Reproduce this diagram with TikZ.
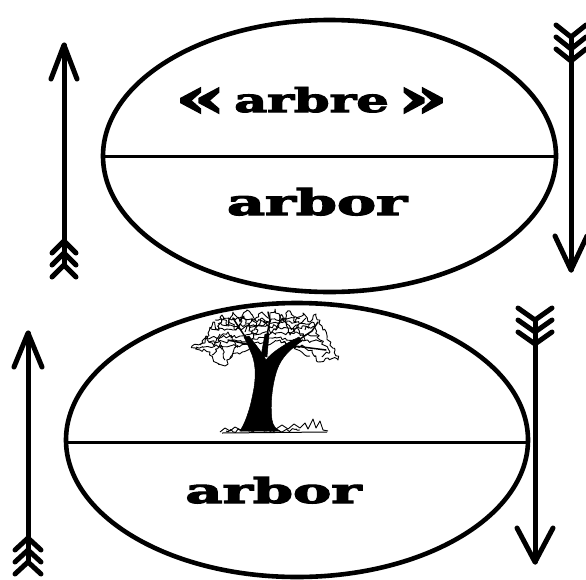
\documentclass[tikz,border=0pt]{standalone}
\usepackage{fontspec}
\newfontfamily\labelfont{DejaVu Serif}[BoldFeatures={FakeBold=3}]
\usetikzlibrary{decorations.pathmorphing}

% arrow with an open head and three chevron fletchings
% #1 name, #2 tip, #3 length tip->last fletching, #4 half width, #5 +1 up / -1 down
\newcommand\fletchedarrow[5]{%
  \begin{scope}[shift={#2}, yscale=#5]
    \coordinate (#1-tip) at (0,0);
    \coordinate (#1-tail) at (0,#3);
    \draw[arrowline] (-#4,34) -- (#1-tip) -- (#4,34);
    \draw[arrowline] (#1-tip) -- (#1-tail);
    \foreach \v in {0,12,24}
      \draw[arrowline] (-#4+1,#3-\v+12) -- (0,#3-\v) -- (#4-1,#3-\v+12);
  \end{scope}}
% large guillemet
\newcommand\bigquote[1]{\raisebox{-0.12em}{\scalebox{1.6}{#1}}}

\begin{document}
\begin{tikzpicture}[x=1pt,y=-1pt,
  outline/.style={line width=4.6pt},
  divider/.style={line width=3pt},
  arrowline/.style={line width=5pt, line cap=round, line join=round},
  word/.style={inner sep=0pt, anchor=base},
  scribble/.style={line width=0.9pt, line join=round, decorate,
    decoration={random steps, segment length=2.5pt, amplitude=1.8pt}},
  bark/.style={fill=black, draw=black, line width=0.5pt},
  twig/.style={line width=1.5pt, line cap=round}]
\useasboundingbox (0,0) rectangle (586,579);
\pgfmathsetseed{4242}

% ---- upper ellipse: French word over Latin root
\coordinate (top) at (329.5,156);
\draw[outline] (top) ellipse [x radius=226.5pt, y radius=136pt];
\draw[divider] (103,156) -- (556,156);
\node[word] (arbre) at (311.5,112)
  {\resizebox{273pt}{25pt}{\labelfont\bfseries \bigquote{«}\,arbre\,\bigquote{»}}};
\node[word] (arborA) at (317,215)
  {\resizebox{180pt}{27pt}{\labelfont\bfseries arbor}};

% ---- lower ellipse: picture over Latin root
\coordinate (bot) at (297,440);
\draw[outline] (bot) ellipse [x radius=231pt, y radius=137pt];
\draw[divider] (66,442) -- (528,442);
\node[word] (arborB) at (273.5,503)
  {\resizebox{176pt}{26pt}{\labelfont\bfseries arbor}};

% ---- the tree
\fill[bark] (240,431) .. controls (247,420) and (251,405) .. (254,388)
  .. controls (256,375) and (256,362) .. (250,350)
  .. controls (248,345) and (246,341) .. (244,337)
  -- (249,336)
  .. controls (254,343) and (262,352) .. (266,360)
  .. controls (272,352) and (285,344) .. (299,337)
  -- (302,341)
  .. controls (290,349) and (281,358) .. (277,370)
  .. controls (272,385) and (270,405) .. (272,420)
  .. controls (273,426) and (276,429) .. (280,431) -- cycle;
\fill[bark] (261,356) -- (265,334) -- (269,334) -- (267,357) -- cycle;
\draw[twig] (246,338) -- (238,326) -- (233,318);
\draw[twig] (300,339) -- (312,331) -- (318,322);
\draw[twig] (267,335) -- (270,320) -- (268,312);
\draw[twig] (256,346) -- (228,340);
\draw[twig] (287,345) -- (326,350);

% canopy scribbles
\draw[scribble] (192,346) -- (205,343) -- (208,333) -- (213,322) -- (218,330)
  -- (222,315) -- (228,325) -- (233,312) -- (240,322) -- (247,310) -- (255,320)
  -- (262,312) -- (268,318) -- (275,309) -- (282,320) -- (290,311) -- (296,322)
  -- (303,313) -- (310,322) -- (316,314) -- (322,326) -- (327,338) -- (335,350)
  -- (338,360) -- (328,358) -- (318,362) -- (312,352) -- (302,345) -- (290,348)
  -- (280,340) -- (268,345) -- (258,342) -- (248,350) -- (232,355) -- (225,366)
  -- (215,362) -- (210,352) -- (200,350) -- cycle;
\draw[scribble] (196,347) -- (250,345);
\draw[scribble] (205,338) -- (240,336) -- (262,333) -- (300,334) -- (318,336);
\draw[scribble] (210,328) -- (235,330) -- (260,325) -- (290,328) -- (315,327);
\draw[scribble] (215,320) -- (240,318) -- (265,321) -- (300,318);
\draw[scribble] (218,324) -- (250,326) -- (280,322) -- (310,324);
\draw[scribble] (208,342) -- (238,341) -- (270,338) -- (322,342);
\draw[scribble] (222,350) -- (218,340) -- (228,332) -- (236,345) -- (230,358);
\draw[scribble] (245,332) -- (252,318) -- (258,330) -- (250,340);
\draw[scribble] (275,330) -- (282,315) -- (290,335) -- (296,325) -- (305,340);
\draw[scribble] (305,330) -- (312,322) -- (320,340) -- (330,352) -- (322,356);
\draw[scribble] (212,355) -- (220,345) -- (225,360);
\draw[scribble] (283,342) -- (298,350) -- (310,356);
\draw[scribble] (228,318) -- (236,330) -- (244,316) -- (252,334) -- (262,318)
  -- (272,332) -- (284,318) -- (294,332) -- (306,318);
\draw[scribble] (200,345) -- (206,336) -- (214,346) -- (220,334);

% grass
\draw[line width=0.9pt, line join=round] (220,432) -- (225,428) -- (230,431)
  -- (235,427) -- (241,430) -- (247,426) -- (252,429) -- (258,427) -- (264,430)
  -- (270,426) -- (276,429) -- (282,425) -- (288,429) -- (294,424) -- (300,428)
  -- (305,423) -- (308,429) -- (313,419) -- (316,428) -- (320,421) -- (323,430)
  -- (328,431);
\draw[line width=1pt] (222,433) -- (327,432);
\draw[scribble] (226,431) -- (300,430);

% ---- the four arrows
\fletchedarrow{upA}{(64,45)}{220}{13}{1}
\fletchedarrow{downA}{(571,270)}{233}{16}{-1}
\fletchedarrow{upB}{(28,333)}{229}{14}{1}
\fletchedarrow{downB}{(535,562)}{242}{18}{-1}
\end{tikzpicture}
\end{document}
